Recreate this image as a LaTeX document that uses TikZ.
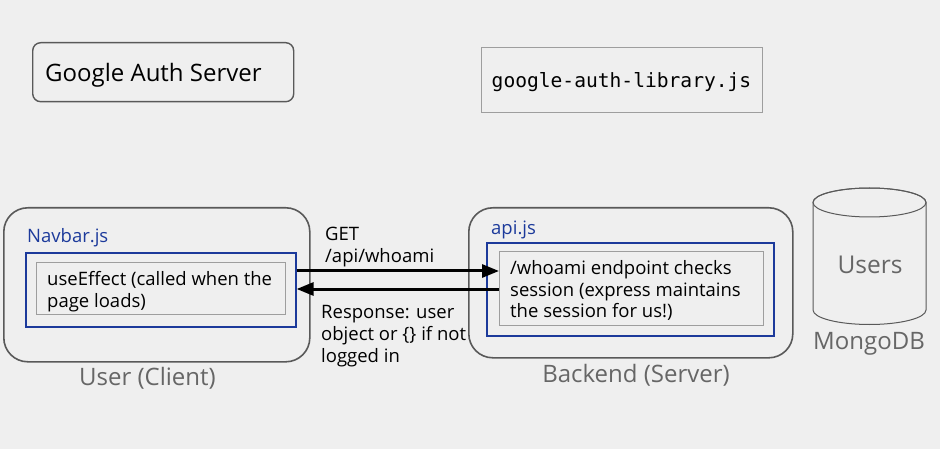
\documentclass[tikz,border=0pt]{standalone}
\usepackage{fontspec}
\setmainfont{Open Sans}
\newfontfamily\monof{DejaVu Sans Mono}
\usetikzlibrary{arrows.meta,positioning}
\definecolor{bg}{HTML}{EFEFEF}
\definecolor{darkb}{HTML}{595959}
\definecolor{lightb}{HTML}{9E9E9E}
\definecolor{blueb}{HTML}{1C3A9B}
\definecolor{labg}{HTML}{666666}
\tikzset{
  outerbox/.style={draw=darkb, line width=1.6pt, rounded corners=24pt, fill=bg},
  bluebox/.style={draw=blueb, line width=1.6pt},
  innerbox/.style={draw=lightb, line width=1.2pt, fill=bg, inner sep=0pt, align=left, anchor=north west},
  txt/.style={font=\fontsize{18.5}{21.8}\selectfont, inner sep=0pt, align=left},
  bluetxt/.style={font=\fontsize{18.5}{22}\selectfont, text=blueb, inner sep=0pt},
  graytxt/.style={font=\fontsize{24}{26}\selectfont, text=labg, inner sep=0pt},
  arr/.style={line width=3pt, -{Triangle[length=17pt,width=13pt]}},
}
\begin{document}
\begin{tikzpicture}[x=1pt,y=1pt]
\fill[bg] (0,0) rectangle (940,-449);
\useasboundingbox (0,0) rectangle (940,-449);

% top boxes
\node[draw=darkb, line width=1.4pt, rounded corners=8pt, anchor=north west,
  minimum width=261pt, minimum height=59pt, inner sep=0pt] (gbox) at (32,-42) {};
\node[anchor=base west, inner sep=0pt, font=\fontsize{24}{26}\selectfont] (gtxt) at (45,-82) {Google Auth Server};

\node[draw=lightb, line width=1.2pt, anchor=north west,
  minimum width=281pt, minimum height=65pt, inner sep=0pt] (lbox) at (481,-47) {};
\node[anchor=base, inner sep=0pt, font=\monof\fontsize{19.6}{24}\selectfont] (ltxt) at (621.5,-88) {google-auth-library.js};

% client
\node[outerbox, anchor=north west, minimum width=306pt, minimum height=154pt, inner sep=0pt] (client) at (3,-207) {};
\node[bluetxt, anchor=base west] (navlbl) at (27,-243) {Navbar.js};
\node[bluebox, anchor=north west, minimum width=270pt, minimum height=74pt, inner sep=0pt] (navblue) at (25,-252) {};
\node[innerbox, minimum width=249pt, minimum height=52pt] (useeff) at (36,-262) {};
\node[txt, anchor=north west] (useefftxt) at (47,-271) {useEffect (called when the\\page loads)};
\node[graytxt, anchor=base] (clientlbl) at (147.5,-385) {User (Client)};

% backend
\node[outerbox, anchor=north west, minimum width=324pt, minimum height=150pt, inner sep=0pt] (backend) at (468,-207) {};
\node[bluetxt, anchor=base west] (apilbl) at (491,-235) {api.js};
\node[bluebox, anchor=north west, minimum width=287pt, minimum height=93pt, inner sep=0pt] (apiblue) at (486,-242) {};
\node[innerbox, minimum width=264pt, minimum height=74pt] (whoami) at (499,-251) {};
\node[txt, anchor=north west] (whoamitxt) at (510,-260) {/whoami endpoint checks\\session (express maintains\\the session for us!)};
\node[graytxt, anchor=base] (backlbl) at (636,-382) {Backend (Server)};

% cylinder
\coordinate (cyltop) at (869.5,-202.5);
\draw[darkb, line width=1pt, fill=bg] (813,-202.5) -- (813,-310)
  arc[start angle=180, end angle=360, x radius=56.5pt, y radius=14.5pt] -- (926,-202.5)
  arc[start angle=0, end angle=180, x radius=56.5pt, y radius=14.5pt] -- cycle;
\draw[darkb, line width=1pt] (cyltop) ellipse [x radius=56.5pt, y radius=14.5pt];
\node[graytxt, font=\fontsize{24.5}{26}\selectfont, anchor=base] (users) at (870,-273) {Users};
\node[graytxt, anchor=base] (mongo) at (869,-349) {MongoDB};

% arrows
\draw[arr] (navblue.east |- 0,-271) -- (whoami.west |- 0,-271);
\draw[arr] (whoami.west |- 0,-289) -- (navblue.east |- 0,-289);

\node[txt, anchor=north west] (getlbl) at (325,-227) {GET\\/api/whoami};
\node[txt, anchor=north west] (resplbl) at (321,-305) {Response: user\\object or \{\} if not\\logged in};
\end{tikzpicture}
\end{document}
